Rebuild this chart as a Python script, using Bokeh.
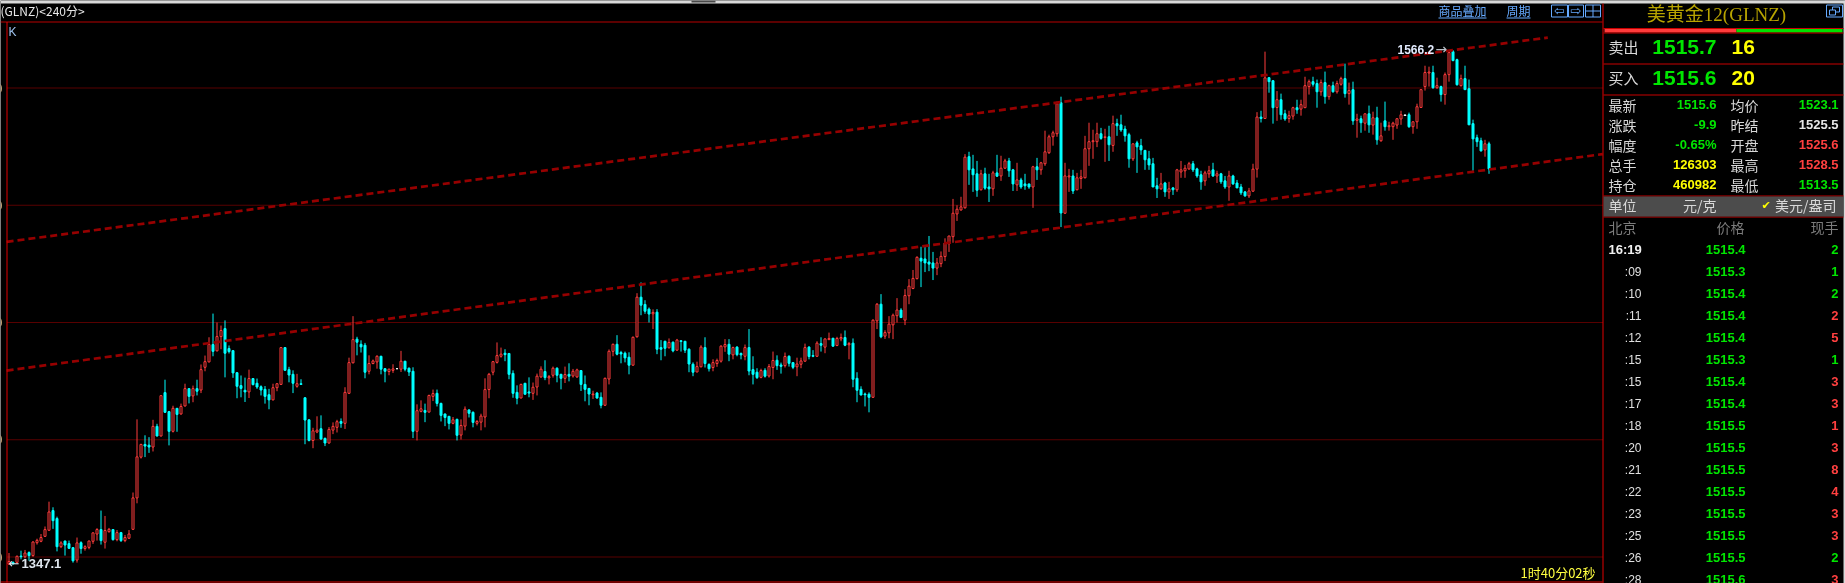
from bokeh.plotting import figure
from bokeh.models import Range1d
from bokeh.core.properties import value
from bokeh.embed import file_html
from bokeh.resources import INLINE

# ---------- candle data (direction: u = up, d = down, f = flat) ----------
directions = """ududu duuuu uddud ddudu uuudu ududu uuuud dudud duduu duduu uduud ddddd udddd duuud ddudd duudd uuudu uuddd uuudd uuf
udddu uduud dddud uuddu uuuuu udddd uddu u uduud duduu dddud duuud dddu u dddud ddudu ddddu uddu u uudud duddd uduud duddu uuddu duudu ududd dddu u duuuu
duuuu ddddu uuuuu uuddd uddud uuddu dddud uuuuu duudu uuuuu dudud dddud ddddd ududu uuudd duudu ddudd ddu
uudud duddu uduuu ddudu duudu dudud ududu uuufd uuuuu duduu ddudd dddud"""
direction = "".join(directions.split())

body_top = [
1348.1,1347.7,1350.3,1350.4,1351.7,1351.9,1356.4,1357.1,1358.3,1361.7,
1369.2,1369.8,1366.4,1356.0,1356.8,1355.7,1354.0,1356.0,1356.1,1354.4,
1356.8,1360.3,1361.7,1361.7,1361.3,1361.8,1361.7,1360.4,1360.4,1358.3,
1359.8,1375.2,1392.7,1398.0,1398.0,1397.7,1405.7,1405.7,1418.8,1420.1,
1412.0,1413.4,1413.4,1414.2,1421.8,1421.8,1421.8,1421.8,1429.9,1433.3,
1440.6,1440.6,1444.0,1446.6,1447.4,1438.9,1438.0,1428.6,1423.1,1421.1,
1426.1,1426.1,1424.1,1422.6,1421.5,1419.2,1422.2,1423.9,1439.3,1439.3,
1429.9,1427.9,1423.9,1423.9,1417.9,1408.5,1403.8,1404.1,1404.7,1400.6,
1404.4,1405.7,1407.7,1407.8,1420.2,1432.9,1442.7,1442.9,1440.7,1440.3,
1432.5,1433.6,1435.6,1435.6,1430.3,1430.1,1430.2,1430.3,
1433.5,1433.5,1430.5,1429.2,1412.4,1413.2,1412.5,1418.9,1419.7,1419.8,
1415.5,1411.0,1410.0,1408.5,1408.7,1406.1,1413.0,1412.7,1411.7,1407.8,
1410.1,1421.4,1427.9,1433.3,1435.9,1436.5,1436.9,1436.8,1428.3,1420.2,
1423.6,1424.1,1420.4,1422.4,1427.1,1430.1,1429.1,1426.9,1430.5,1430.5,
1427.9,1427.8,1427.9,1429.2,1429.8,1429.5,1423.6,1421.9,1419.5,1419.9,
1418.1,1426.2,1437.7,1440.7,1440.7,1437.2,1436.9,1435.2,1443.7,1460.8,
1460.8,1457.7,1455.7,1454.3,1454.4,1439.3,1442.0,1441.5,1441.6,1442.5,
1442.2,1442.0,1438.6,1432.2,1431.2,1439.5,1439.3,1432.1,1432.9,1433.8,
1439.9,1440.6,1440.7,1439.3,1439.5,1436.8,1439.3,1439.3,1429.9,1428.8,
1429.5,1429.6,1431.2,1433.8,1433.9,1431.9,1435.5,1435.6,1432.9,1432.3,
1433.6,1439.3,1439.5,1435.9,1441.2,1441.0,1443.0,1443.2,1443.3,1443.2,
1443.6,1443.6,1441.0,1441.2,1426.2,1421.5,1419.5,1419.4,1451.0,1457.8,
1457.8,1445.7,1449.3,1453.1,1455.3,
1455.3,1461.5,1465.5,1468.8,1477.8,1477.4,1477.1,1475.8,1475.4,1475.4,
1478.2,1483.9,1486.9,1496.6,1498.3,1499.3,1520.5,1520.7,1515.5,1513.4,
1513.4,1513.4,1507.8,1513.8,1513.8,1515.8,1518.9,1518.9,1515.1,1510.8,
1510.8,1509.1,1509.1,1516.4,1516.4,1518.1,1522.8,1529.2,1530.9,1543.3,
1543.7,1512.5,1512.5,1512.5,1511.7,1512.1,1524.1,1527.1,1527.5,1530.5,
1530.5,1529.2,1529.2,1534.8,1534.8,1534.3,1532.5,1530.1,1526.2,1526.6,
1525.4,1523.4,1519.8,1517.7,1508.3,1509.1,1509.5,1507.0,1507.4,1515.1,
1515.1,1515.8,1517.7,1517.7,1515.5,1513.0,1513.8,1514.7,1515.1,1513.4,
1513.4,1510.4,1512.5,1512.5,1509.5,1507.8,1505.7,1506.1,
1515.4,1537.6,1537.6,1554.3,1554.4,1553.1,1545.0,1545.0,1539.0,1538.2,
1541.6,1541.6,1542.9,1551.0,1552.7,1552.7,1551.9,1552.3,1552.3,1551.0,
1551.0,1551.9,1554.0,1554.0,1548.9,1549.3,1536.8,1536.9,1539.0,1539.0,
1537.3,1537.3,1529.6,1536.0,1533.9,1535.0,1536.9,1538.6,1538.5,1538.6,
1535.6,1542.0,1549.3,1556.6,1556.8,1556.6,1551.0,1550.6,1555.7,1565.1,
1565.5,1562.1,1554.0,1554.0,1549.7,1534.8,1528.8,1527.5,1526.2,1526.2]

body_bottom = [
1347.0,1347.0,1347.7,1350.1,1350.1,1350.6,1350.6,1356.1,1356.7,1358.8,
1361.4,1365.5,1354.4,1354.4,1355.1,1353.7,1348.4,1348.7,1353.6,1353.6,
1354.1,1356.7,1359.8,1357.0,1356.3,1360.8,1357.4,1357.4,1357.0,1357.0,
1358.0,1361.8,1375.2,1392.6,1397.3,1396.9,1396.9,1401.6,1401.6,1411.7,
1403.6,1403.6,1410.8,1411.0,1414.4,1418.5,1418.7,1420.7,1421.2,1430.9,
1433.2,1437.7,1437.9,1444.0,1436.9,1437.6,1428.5,1422.8,1421.9,1420.4,
1420.4,1423.5,1422.5,1421.2,1418.5,1417.0,1417.0,1422.2,1423.6,1429.6,
1427.6,1424.1,1422.8,1423.6,1408.4,1399.7,1399.7,1403.3,1400.3,1398.6,
1398.6,1404.1,1405.3,1407.0,1407.0,1419.8,1432.8,1441.6,1439.6,1428.8,
1429.2,1432.5,1433.2,1430.1,1429.2,1429.1,1429.6,1430.3,
1430.1,1430.1,1428.9,1403.6,1403.6,1412.1,1411.7,1411.8,1418.5,1415.5,
1410.4,1409.5,1407.0,1407.0,1401.9,1402.0,1405.8,1411.3,1407.4,1407.0,
1407.5,1409.7,1421.4,1428.8,1433.0,1435.6,1436.3,1427.9,1419.8,1417.7,
1417.8,1419.4,1419.9,1419.8,1422.5,1426.8,1426.5,1426.4,1427.5,1427.5,
1426.2,1426.2,1427.1,1427.2,1426.8,1423.6,1421.5,1419.5,1419.2,1417.8,
1414.7,1414.7,1425.9,1437.7,1436.5,1436.6,1434.9,1431.8,1431.8,1443.9,
1457.4,1454.8,1453.6,1453.7,1438.6,1438.6,1439.0,1439.2,1437.9,1438.2,
1441.9,1438.2,1432.3,1428.8,1428.9,1431.1,1432.5,1430.3,1430.8,1432.5,
1433.5,1439.6,1436.5,1436.2,1436.3,1436.2,1435.6,1429.3,1427.9,1426.5,
1426.6,1427.1,1427.2,1430.8,1431.6,1431.3,1431.6,1432.6,1430.9,1431.1,
1432.2,1433.5,1435.5,1435.6,1435.6,1440.3,1439.5,1442.7,1439.9,1440.2,
1443.0,1440.3,1440.5,1425.8,1421.1,1419.1,1419.2,1418.1,1418.1,1450.7,
1443.9,1444.2,1445.6,1449.0,1452.9,
1452.1,1451.0,1461.4,1464.5,1468.7,1476.2,1475.4,1474.9,1473.2,1473.2,
1475.1,1478.1,1483.6,1486.6,1496.3,1498.0,1498.9,1515.1,1513.0,1506.4,
1506.6,1507.3,1507.0,1507.0,1512.4,1512.5,1515.8,1514.7,1509.1,1508.7,
1507.8,1508.3,1507.8,1507.8,1515.1,1515.1,1517.7,1522.4,1529.2,1530.5,
1496.7,1496.6,1512.1,1506.1,1506.6,1511.4,1511.7,1524.1,1527.1,1527.1,
1528.5,1528.9,1525.8,1525.5,1533.9,1532.1,1529.6,1519.8,1519.8,1524.9,
1523.6,1519.4,1517.2,1507.8,1507.0,1507.0,1505.7,1505.7,1506.6,1506.6,
1514.2,1514.7,1515.5,1515.1,1512.5,1510.0,1510.4,1513.4,1512.5,1512.5,
1510.0,1507.8,1507.8,1509.1,1507.4,1505.3,1504.0,1504.0,
1506.0,1515.4,1537.0,1537.0,1552.7,1541.6,1541.7,1538.6,1536.8,1537.0,
1538.0,1540.7,1541.0,1541.6,1550.6,1551.6,1548.4,1548.4,1546.3,1546.3,
1548.4,1548.4,1551.6,1547.6,1547.6,1536.0,1536.2,1535.2,1535.0,1534.3,
1534.2,1527.9,1527.5,1533.5,1533.5,1533.5,1534.2,1536.8,1538.3,1533.5,
1533.5,1535.6,1541.7,1550.6,1556.4,1550.1,1550.1,1547.2,1547.2,1555.7,
1561.7,1551.4,1551.0,1549.3,1534.3,1528.3,1527.1,1523.2,1523.6,1515.5]

high = [
1351.7,1348.1,1350.6,1352.7,1353.0,1352.4,1356.7,1357.8,1359.8,1363.0,
1373.6,1371.2,1367.2,1356.7,1357.0,1357.0,1354.1,1358.3,1356.7,1355.0,
1357.0,1360.5,1362.3,1369.8,1367.5,1362.4,1361.8,1361.5,1360.7,1359.4,
1361.5,1377.5,1408.7,1398.3,1401.9,1401.1,1408.5,1406.8,1418.9,1425.6,
1412.3,1414.5,1413.5,1415.4,1423.9,1421.9,1423.1,1425.6,1432.1,1435.9,
1443.7,1453.8,1450.0,1448.7,1450.9,1440.2,1438.2,1428.8,1427.4,1426.5,
1429.9,1426.2,1426.1,1423.2,1422.9,1421.7,1423.9,1424.1,1439.5,1439.5,
1431.1,1429.6,1428.1,1425.8,1418.1,1408.7,1405.1,1410.0,1410.4,1400.9,
1405.4,1407.4,1408.5,1409.1,1422.4,1435.0,1452.7,1443.9,1442.4,1441.3,
1436.0,1434.2,1436.0,1435.8,1430.5,1430.3,1432.2,1430.3,
1437.9,1433.6,1430.8,1430.9,1415.1,1416.8,1415.4,1419.2,1421.4,1421.4,
1415.8,1411.1,1410.1,1409.7,1409.0,1408.7,1414.2,1413.0,1412.1,1408.4,
1411.1,1426.2,1428.5,1433.6,1441.5,1439.3,1438.6,1436.9,1429.6,1423.2,
1423.9,1424.1,1426.6,1424.4,1428.2,1431.3,1433.9,1427.6,1431.2,1430.9,
1428.1,1431.2,1432.6,1430.2,1430.3,1429.6,1427.4,1421.9,1420.9,1420.4,
1420.2,1426.5,1438.5,1441.0,1444.6,1437.9,1437.6,1437.3,1444.0,1462.5,
1467.1,1459.5,1456.4,1455.6,1455.7,1442.5,1442.2,1443.2,1441.9,1443.0,
1442.5,1442.0,1439.0,1433.0,1433.3,1440.3,1443.7,1432.6,1434.3,1434.6,
1440.3,1442.9,1442.9,1439.7,1439.9,1437.2,1440.6,1447.2,1435.6,1430.5,
1430.3,1430.5,1432.3,1437.6,1436.0,1432.9,1437.2,1436.0,1433.0,1435.0,
1435.0,1441.0,1439.9,1438.2,1442.0,1443.7,1443.2,1445.7,1443.4,1443.9,
1445.3,1446.6,1441.7,1443.2,1428.8,1422.8,1420.1,1420.2,1451.3,1458.3,
1462.1,1446.7,1452.7,1453.8,1460.4,
1456.1,1464.2,1468.5,1472.4,1478.2,1482.3,1482.3,1486.9,1480.1,1477.5,
1480.3,1485.9,1486.9,1502.7,1500.0,1503.6,1521.8,1522.8,1521.5,1518.9,
1515.1,1516.0,1513.4,1514.7,1521.5,1521.1,1519.8,1520.2,1515.5,1518.1,
1511.7,1513.4,1509.1,1516.8,1520.2,1518.5,1531.8,1530.1,1531.8,1544.2,
1546.3,1518.1,1515.5,1515.1,1513.8,1515.1,1529.6,1535.2,1532.2,1535.2,
1533.0,1532.6,1533.9,1538.2,1536.9,1538.6,1533.9,1530.9,1526.2,1527.5,
1528.3,1523.6,1523.2,1520.2,1511.7,1513.8,1510.0,1510.0,1507.8,1515.5,
1518.9,1517.2,1518.5,1518.9,1516.0,1514.7,1514.7,1516.8,1518.1,1514.7,
1513.8,1512.5,1514.7,1513.0,1510.8,1509.1,1506.1,1507.4,
1517.7,1539.7,1540.3,1565.5,1554.7,1553.4,1548.7,1547.6,1540.7,1540.3,
1542.0,1545.0,1545.0,1554.8,1553.6,1554.8,1553.6,1553.6,1557.0,1551.4,
1552.7,1553.1,1554.8,1560.4,1552.3,1552.7,1539.0,1538.2,1539.0,1542.5,
1539.9,1542.0,1535.2,1544.2,1535.6,1535.6,1536.9,1540.3,1538.5,1539.5,
1535.6,1543.3,1549.3,1559.5,1559.1,1559.5,1554.4,1551.0,1556.6,1566.2,
1566.2,1562.5,1555.7,1559.5,1553.6,1536.5,1530.1,1528.8,1527.9,1527.1]

low = [
1346.7,1347.0,1347.3,1349.0,1349.4,1348.4,1350.1,1355.3,1356.3,1358.7,
1361.3,1362.0,1352.4,1353.8,1350.6,1353.4,1347.6,1347.6,1351.4,1352.7,
1353.3,1355.6,1357.0,1355.3,1353.6,1360.4,1357.0,1356.7,1356.4,1356.3,
1357.7,1361.5,1372.9,1392.0,1392.6,1394.4,1395.0,1401.4,1401.4,1411.4,
1397.6,1403.1,1403.4,1410.7,1414.2,1415.5,1416.0,1418.9,1419.9,1429.2,
1433.0,1435.6,1437.7,1438.6,1426.6,1436.8,1426.4,1417.7,1418.1,1416.1,
1417.8,1423.2,1421.7,1418.9,1415.4,1413.0,1416.8,1420.7,1423.4,1429.5,
1424.5,1419.9,1422.2,1423.6,1398.1,1399.3,1396.4,1402.8,1400.0,1397.3,
1398.4,1402.4,1403.1,1405.1,1404.6,1419.5,1432.6,1436.0,1437.2,1426.2,
1427.9,1432.2,1430.3,1427.9,1424.5,1427.5,1428.5,1430.3,
1428.9,1429.2,1427.2,1400.7,1399.7,1411.7,1407.5,1411.7,1416.5,1414.2,
1407.8,1405.8,1404.4,1406.6,1399.7,1400.1,1404.0,1409.5,1405.3,1406.1,
1404.0,1405.3,1417.7,1427.5,1432.5,1435.0,1433.5,1425.8,1417.9,1415.1,
1417.7,1419.4,1418.1,1417.0,1418.9,1426.4,1425.4,1423.6,1426.5,1424.5,
1421.5,1424.2,1424.9,1426.5,1426.4,1420.8,1416.4,1414.7,1417.4,1417.5,
1413.4,1414.4,1423.6,1435.6,1436.0,1432.6,1433.0,1427.9,1431.6,1443.6,
1453.1,1453.7,1450.0,1447.2,1436.5,1433.9,1435.6,1439.0,1437.3,1437.9,
1437.6,1437.0,1428.8,1427.1,1428.8,1430.9,1430.8,1429.1,1429.2,1431.1,
1432.9,1437.5,1433.5,1434.3,1435.6,1434.3,1433.9,1427.5,1423.6,1425.9,
1426.2,1426.5,1426.5,1425.8,1429.8,1428.2,1430.8,1431.2,1430.1,1427.1,
1430.5,1433.3,1434.3,1435.2,1435.3,1437.6,1436.9,1442.5,1439.7,1439.9,
1442.0,1439.9,1434.3,1422.4,1416.0,1418.9,1414.2,1411.7,1417.8,1447.2,
1443.3,1443.0,1443.3,1442.9,1450.0,
1451.9,1448.9,1457.8,1464.2,1468.4,1465.1,1471.5,1471.9,1468.1,1470.2,
1473.6,1476.2,1480.1,1484.0,1493.3,1497.7,1498.6,1508.7,1505.7,1503.6,
1506.3,1506.6,1501.4,1504.0,1512.1,1510.4,1515.5,1512.1,1506.1,1506.1,
1507.0,1506.6,1507.0,1498.9,1510.8,1513.0,1516.8,1521.9,1525.4,1529.2,
1490.7,1496.3,1505.7,1504.8,1506.4,1507.0,1511.5,1516.8,1519.8,1524.8,
1527.9,1518.5,1518.9,1522.8,1529.6,1531.3,1527.1,1516.0,1518.9,1513.8,
1521.5,1515.1,1515.1,1507.8,1503.1,1506.6,1503.6,1502.7,1504.4,1505.7,
1511.7,1511.7,1515.1,1514.2,1511.7,1506.6,1508.3,1511.7,1512.1,1509.5,
1509.1,1507.0,1501.9,1508.7,1507.4,1504.4,1503.6,1503.1,
1505.7,1511.8,1535.3,1536.9,1548.0,1534.8,1536.0,1536.5,1536.0,1535.2,
1536.5,1539.0,1538.2,1541.5,1547.2,1550.6,1541.6,1546.7,1543.3,1545.0,
1548.0,1547.6,1551.0,1545.9,1542.9,1534.3,1528.8,1530.9,1531.8,1530.9,
1530.1,1525.8,1527.1,1531.8,1531.8,1527.9,1532.6,1534.3,1538.3,1533.0,
1530.5,1532.6,1541.6,1548.9,1550.6,1549.7,1549.7,1544.2,1542.9,1552.7,
1561.4,1551.0,1550.6,1549.3,1534.3,1514.7,1524.9,1522.9,1520.7,1513.4]

# ---------- chart annotations ----------
grid_prices = [1350, 1400, 1450, 1500, 1550]
max_label, min_label = "1566.2", "1347.1"
lower_channel_index = [-0.6, 398.4]
lower_channel_price = [1429.5, 1521.8]
upper_channel_index = [-0.6, 384.7]
upper_channel_price = [1484.4, 1571.5]

# ---------- quote panel ----------
title = "美黄金12(GLNZ)"
ask, ask_size, bid, bid_size = "1515.7", "16", "1515.6", "20"
left_labels = ["最新", "涨跌", "幅度", "总手", "持仓"]
left_values = ["1515.6", "-9.9", "-0.65%", "126303", "460982"]
left_colors = ["#00e600", "#00e600", "#00e600", "#ffff00", "#ffff00"]
right_labels = ["均价", "昨结", "开盘", "最高", "最低"]
right_values = ["1523.1", "1525.5", "1525.6", "1528.5", "1513.5"]
right_colors = ["#00e600", "#e8e8e8", "#ff4040", "#ff4040", "#00e600"]
tick_times = ["16:19", ":09", ":10", ":11", ":12", ":15", ":15", ":17", ":18", ":20", ":21", ":22", ":23", ":25", ":26", ":28"]
tick_prices = ["1515.4", "1515.3", "1515.4", "1515.4", "1515.4", "1515.3", "1515.4", "1515.4", "1515.5", "1515.5", "1515.5", "1515.5", "1515.5", "1515.5", "1515.5", "1515.6"]
tick_volumes = ["2", "1", "2", "2", "5", "1", "3", "3", "1", "3", "8", "4", "3", "3", "2", "3"]
tick_sides = "gggrrgrrrrrrrrgr"

W, H = 1845, 583
UP, DOWN, FLAT = "#ff3c3c", "#00ffff", "#ffffff"
CJK = "Noto Sans CJK SC"
NUM = "Liberation Sans"
LINK = "#66aaff"
RED = "#c80000"

p = figure(width=W, height=H, output_backend="svg", toolbar_location=None,
           x_range=Range1d(-8.5 / 4, (W - 8.5) / 4),
           y_range=Range1d(1350 - 26.5 / 2.345, 1350 + 556.5 / 2.345),
           x_axis_location=None, y_axis_location=None,
           background_fill_color="#000000", border_fill_color="#000000",
           outline_line_color=None, min_border=0,
           styles={"position": "fixed", "left": "0px", "top": "0px"})
p.grid.visible = False
p.extra_x_ranges = {"px": Range1d(0, W)}
p.extra_y_ranges = {"px": Range1d(H, 0)}
PX = dict(x_range_name="px", y_range_name="px")


def t(x, y, s, color="#d8d8d8", size=14, font=CJK, bold=False, align="left"):
    p.text(x=[x], y=[y], text=[s], text_color=color, text_font=value(font),
           text_font_size=f"{size}px", text_font_style="bold" if bold else "normal",
           text_align=align, text_baseline="middle", **PX)


def line(x0, y0, x1, y1, color=RED, width=1.0):
    p.segment(x0=[x0], y0=[y0], x1=[x1], y1=[y1], line_color=color, line_width=width, **PX)


def box(l, r, top, bottom, fill=None, color=None):
    p.quad(left=[l], right=[r], top=[top], bottom=[bottom], fill_color=fill,
           line_color=color, **PX)


# grid
for price in grid_prices:
    p.segment(x0=[7], x1=[1602], y0=[price], y1=[price], line_color="#b00000",
              line_width=1, line_dash="1 1", x_range_name="px")
    p.text(x=[2], y=[price], text=[str(price)], text_color="#c8a878", text_font=value(NUM),
           text_font_size="12px", text_align="right", text_baseline="middle", x_range_name="px")

# candles
index = list(range(len(direction)))
colors = {"u": UP, "d": DOWN, "f": FLAT}
fills = {"u": "#000000", "d": DOWN, "f": FLAT}
source = dict(x=index, high=high, low=low, top=body_top, bottom=body_bottom,
              color=[colors[c] for c in direction], fill=[fills[c] for c in direction])
p.segment(x0="x", x1="x", y0="low", y1="high", line_color="color", line_width=1, source=source)
p.vbar(x="x", top="top", bottom="bottom", width=0.5, fill_color="fill", line_color="color",
       line_width=1, source=source)

# channel lines
for xs, ys in ((lower_channel_index, lower_channel_price), (upper_channel_index, upper_channel_price)):
    p.line(xs, ys, line_color="#960000", line_width=2.7, line_dash="7 4")

# frame
box(0, W, 0, 3, fill="#d8d8d8")
box(691, 715, 0, 2, fill="#484848")
box(W - 2, W, 0, H, fill="#d8d8d8")
line(0, 21.5, 1602, 21.5, "#b80000")
line(6.5, 21.5, 6.5, 582, "#e00000")
line(0, 581.5, 1602, 581.5, "#e00000")
line(1602.5, 3, 1602.5, H, "#e00000")

# header
t(0, 10, "(GLNZ)<240分>", "#e8e8e8", 12)
t(8, 31, "K", "#9fc4f0", 12, NUM)
t(1438, 10, "商品叠加", LINK, 12)
line(1438, 17.5, 1486, 17.5, LINK)
t(1506, 10, "周期", LINK, 12)
line(1506, 17.5, 1530, 17.5, LINK)
for l, r in ((1551, 1567), (1568, 1583), (1585, 1600), (1826, 1842)):
    box(l, r, 4.5, 16.5, color=LINK)
t(1559, 10, "⇦", LINK, 13, "DejaVu Sans", align="center")
t(1575.5, 10, "⇨", LINK, 13, "DejaVu Sans", align="center")
line(1592.5, 4.5, 1592.5, 16.5, LINK)
line(1585, 10.5, 1600, 10.5, LINK)
box(1832, 1839, 6.5, 11.5, color=LINK)
box(1829, 1835, 9.5, 14.5, fill="#000000", color=LINK)

# marks on the chart
t(1397, 49, max_label, "#e4ecff", 12, NUM, bold=True)
t(1435, 48, "→", "#b8c0c8", 14, "DejaVu Sans")
t(8, 562.5, "←", "#dfe6ee", 13, "DejaVu Sans")
t(21, 563, min_label, "#dfe6ee", 13, NUM, bold=True)
t(1520, 572, "1时40分02秒", "#ffff40", 13)

# quote panel
t(1716, 13.5, title, "#b8a400", 19, "Liberation Serif, Noto Sans CJK SC", align="center")
line(1603, 28, W - 2, 28)
box(1604, 1736, 28.5, 32, fill="#ff3c3c")
box(1736, 1842, 28.5, 32, fill="#00e000")
for yy in (32.5, 63.5, 94.5, 195.5, 216.5):
    line(1603, yy, W - 2, yy)
box(1603, W - 2, 196, 216, fill="#4c4c4c")

for yy, label, price, size in ((46, "卖出", ask, ask_size), (77, "买入", bid, bid_size)):
    t(1608, yy, label, "#d8d8d8", 15)
    t(1716, yy + 0.5, price, "#00e600", 21, NUM, True, "right")
    t(1731, yy + 0.5, size, "#ffff00", 21, NUM, True)

for i in range(5):
    yy = 104 + 20 * i
    t(1608, yy, left_labels[i], "#d8d8d8", 14)
    t(1716, yy, left_values[i], left_colors[i], 13, NUM, True, "right")
    t(1730, yy, right_labels[i], "#d8d8d8", 14)
    t(1838, yy, right_values[i], right_colors[i], 13, NUM, True, "right")

t(1608, 204.5, "单位", "#d8d8d8", 14)
t(1716, 204.5, "元/克", "#d8d8d8", 14, align="right")
t(1761, 205, "✔", "#ffff00", 11, "DejaVu Sans")
t(1836, 204.5, "美元/盎司", "#d8d8d8", 14, align="right")

t(1608, 226, "北京", "#7c7c7c", 14)
t(1744, 226, "价格", "#7c7c7c", 14, align="right")
t(1838, 226, "现手", "#7c7c7c", 14, align="right")

for i, stamp in enumerate(tick_times):
    yy = 249 + 22 * i
    if i == 0:
        t(1608, yy, stamp, "#f0f0f0", 13, NUM, True)
    else:
        t(1641, yy, stamp, "#e0e0e0", 12, NUM, align="right")
    t(1745, yy, tick_prices[i], "#00e600", 13, NUM, True, "right")
    t(1838, yy, tick_volumes[i], "#00e600" if tick_sides[i] == "g" else "#ff4040", 13, NUM, True, "right")

open("out.html", "w").write(file_html(p, INLINE))
